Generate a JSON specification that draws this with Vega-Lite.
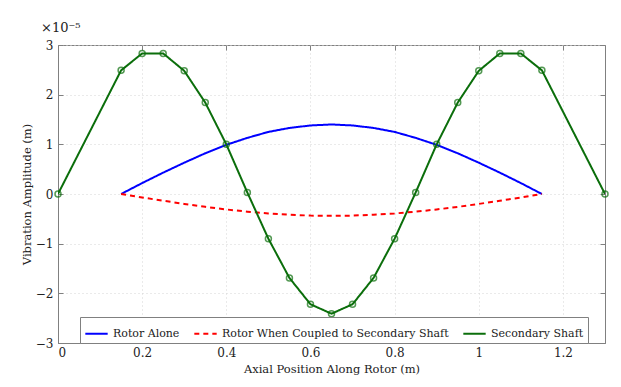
{
  "$schema": "https://vega.github.io/schema/vega-lite/v6.json",
  "width": 547,
  "height": 298,
  "autosize": {"type": "none"},
  "padding": {"left": 58, "top": 45, "right": 16, "bottom": 44},
  "background": "white",
  "config": {
    "font": "DejaVu Serif",
    "view": {"stroke": "#808080", "strokeWidth": 1},
    "axis": {
      "labelFont": "DejaVu Serif",
      "titleFont": "DejaVu Serif",
      "labelFontSize": 12,
      "titleFontSize": 11.5,
      "titleFontWeight": "normal",
      "labelColor": "#222",
      "titleColor": "#222",
      "domainColor": "#808080",
      "tickColor": "#808080",
      "gridColor": "#d4d4d4",
      "gridDash": [1, 3],
      "tickSize": -5
    }
  },
  "title": {
    "text": "×10⁻⁵",
    "anchor": "start",
    "frame": "group",
    "dx": -17,
    "offset": 4,
    "fontSize": 13,
    "fontWeight": "normal",
    "font": "DejaVu Serif",
    "color": "#222"
  },
  "data": {
    "values": [
      {"series": "Rotor Alone", "x": 0.15, "y": 0},
      {"series": "Rotor Alone", "x": 0.2, "y": 0.22},
      {"series": "Rotor Alone", "x": 0.25, "y": 0.43},
      {"series": "Rotor Alone", "x": 0.3, "y": 0.63},
      {"series": "Rotor Alone", "x": 0.35, "y": 0.82},
      {"series": "Rotor Alone", "x": 0.4, "y": 0.99},
      {"series": "Rotor Alone", "x": 0.45, "y": 1.13},
      {"series": "Rotor Alone", "x": 0.5, "y": 1.25},
      {"series": "Rotor Alone", "x": 0.55, "y": 1.33},
      {"series": "Rotor Alone", "x": 0.6, "y": 1.38},
      {"series": "Rotor Alone", "x": 0.65, "y": 1.4},
      {"series": "Rotor Alone", "x": 0.7, "y": 1.38},
      {"series": "Rotor Alone", "x": 0.75, "y": 1.33},
      {"series": "Rotor Alone", "x": 0.8, "y": 1.25},
      {"series": "Rotor Alone", "x": 0.85, "y": 1.13},
      {"series": "Rotor Alone", "x": 0.9, "y": 0.99},
      {"series": "Rotor Alone", "x": 0.95, "y": 0.82},
      {"series": "Rotor Alone", "x": 1.0, "y": 0.63},
      {"series": "Rotor Alone", "x": 1.05, "y": 0.43},
      {"series": "Rotor Alone", "x": 1.1, "y": 0.22},
      {"series": "Rotor Alone", "x": 1.15, "y": 0},
      {"series": "Rotor When Coupled to Secondary Shaft", "x": 0.15, "y": 0},
      {"series": "Rotor When Coupled to Secondary Shaft", "x": 0.2, "y": -0.07},
      {"series": "Rotor When Coupled to Secondary Shaft", "x": 0.25, "y": -0.136},
      {"series": "Rotor When Coupled to Secondary Shaft", "x": 0.3, "y": -0.2},
      {"series": "Rotor When Coupled to Secondary Shaft", "x": 0.35, "y": -0.259},
      {"series": "Rotor When Coupled to Secondary Shaft", "x": 0.4, "y": -0.311},
      {"series": "Rotor When Coupled to Secondary Shaft", "x": 0.45, "y": -0.356},
      {"series": "Rotor When Coupled to Secondary Shaft", "x": 0.5, "y": -0.392},
      {"series": "Rotor When Coupled to Secondary Shaft", "x": 0.55, "y": -0.418},
      {"series": "Rotor When Coupled to Secondary Shaft", "x": 0.6, "y": -0.435},
      {"series": "Rotor When Coupled to Secondary Shaft", "x": 0.65, "y": -0.44},
      {"series": "Rotor When Coupled to Secondary Shaft", "x": 0.7, "y": -0.435},
      {"series": "Rotor When Coupled to Secondary Shaft", "x": 0.75, "y": -0.418},
      {"series": "Rotor When Coupled to Secondary Shaft", "x": 0.8, "y": -0.392},
      {"series": "Rotor When Coupled to Secondary Shaft", "x": 0.85, "y": -0.356},
      {"series": "Rotor When Coupled to Secondary Shaft", "x": 0.9, "y": -0.311},
      {"series": "Rotor When Coupled to Secondary Shaft", "x": 0.95, "y": -0.259},
      {"series": "Rotor When Coupled to Secondary Shaft", "x": 1.0, "y": -0.2},
      {"series": "Rotor When Coupled to Secondary Shaft", "x": 1.05, "y": -0.136},
      {"series": "Rotor When Coupled to Secondary Shaft", "x": 1.1, "y": -0.07},
      {"series": "Rotor When Coupled to Secondary Shaft", "x": 1.15, "y": 0},
      {"series": "Secondary Shaft", "x": 0, "y": 0},
      {"series": "Secondary Shaft", "x": 0.15, "y": 2.49},
      {"series": "Secondary Shaft", "x": 0.2, "y": 2.83},
      {"series": "Secondary Shaft", "x": 0.25, "y": 2.83},
      {"series": "Secondary Shaft", "x": 0.3, "y": 2.48},
      {"series": "Secondary Shaft", "x": 0.35, "y": 1.84},
      {"series": "Secondary Shaft", "x": 0.4, "y": 1.0},
      {"series": "Secondary Shaft", "x": 0.45, "y": 0.03},
      {"series": "Secondary Shaft", "x": 0.5, "y": -0.9},
      {"series": "Secondary Shaft", "x": 0.55, "y": -1.69},
      {"series": "Secondary Shaft", "x": 0.6, "y": -2.22},
      {"series": "Secondary Shaft", "x": 0.65, "y": -2.41},
      {"series": "Secondary Shaft", "x": 0.7, "y": -2.22},
      {"series": "Secondary Shaft", "x": 0.75, "y": -1.69},
      {"series": "Secondary Shaft", "x": 0.8, "y": -0.9},
      {"series": "Secondary Shaft", "x": 0.85, "y": 0.03},
      {"series": "Secondary Shaft", "x": 0.9, "y": 1.0},
      {"series": "Secondary Shaft", "x": 0.95, "y": 1.84},
      {"series": "Secondary Shaft", "x": 1.0, "y": 2.48},
      {"series": "Secondary Shaft", "x": 1.05, "y": 2.83},
      {"series": "Secondary Shaft", "x": 1.1, "y": 2.83},
      {"series": "Secondary Shaft", "x": 1.15, "y": 2.49},
      {"series": "Secondary Shaft", "x": 1.3, "y": 0}
    ]
  },
  "layer": [
    {
      "mark": {"type": "line", "strokeWidth": 2, "clip": true},
      "encoding": {
        "x": {
          "field": "x", "type": "quantitative",
          "scale": {"domain": [0, 1.3], "nice": false, "zero": false},
          "axis": {"values": [0, 0.2, 0.4, 0.6, 0.8, 1, 1.2], "format": "~g", "title": "Axial Position Along Rotor (m)", "titlePadding": 5, "labelPadding": 9, "grid": true}
        },
        "y": {
          "field": "y", "type": "quantitative",
          "scale": {"domain": [-3, 3], "nice": false},
          "axis": {"values": [-3, -2, -1, 0, 1, 2, 3], "format": "~g", "title": "Vibration Amplitude (m)", "titlePadding": 3, "labelPadding": 10, "grid": true}
        },
        "color": {
          "field": "series", "type": "nominal",
          "scale": {
            "domain": ["Rotor Alone", "Rotor When Coupled to Secondary Shaft", "Secondary Shaft"],
            "range": ["#0000ff", "#ff0000", "#0b6e0b"]
          },
          "legend": {
            "title": null,
            "orient": "none",
            "legendX": 22,
            "legendY": 272,
            "direction": "horizontal",
            "symbolType": "stroke",
            "symbolSize": 500,
            "symbolStrokeWidth": 2,
            "labelFont": "DejaVu Serif",
            "labelFontSize": 11,
            "labelColor": "#222",
            "columnPadding": 10,
            "padding": 4,
            "strokeColor": "#808080",
            "fillColor": "white",
            "labelLimit": 400
          }
        },
        "strokeDash": {
          "field": "series", "type": "nominal",
          "scale": {
            "domain": ["Rotor Alone", "Rotor When Coupled to Secondary Shaft", "Secondary Shaft"],
            "range": [[1, 0], [5, 4], [1, 0]]
          },
          "legend": {
            "title": null,
            "orient": "none",
            "legendX": 22,
            "legendY": 272,
            "direction": "horizontal",
            "symbolType": "stroke",
            "symbolSize": 500,
            "symbolStrokeWidth": 2,
            "labelFont": "DejaVu Serif",
            "labelFontSize": 11,
            "labelColor": "#222",
            "columnPadding": 10,
            "padding": 4,
            "strokeColor": "#808080",
            "fillColor": "white",
            "labelLimit": 400
          }
        }
      }
    },
    {
      "transform": [{"filter": "datum.series === 'Secondary Shaft'"}],
      "mark": {"type": "point", "shape": "circle", "filled": false, "color": "#0b6e0b", "strokeWidth": 1.5, "size": 36, "clip": false},
      "encoding": {
        "x": {"field": "x", "type": "quantitative", "axis": {"orient": "top", "values": [0, 0.2, 0.4, 0.6, 0.8, 1, 1.2], "labels": false, "title": null, "grid": false, "domain": false}},
        "y": {"field": "y", "type": "quantitative", "axis": {"orient": "right", "values": [-3, -2, -1, 0, 1, 2, 3], "labels": false, "title": null, "grid": false, "domain": false}}
      }
    }
  ],
  "resolve": {"axis": {"x": "independent", "y": "independent"}}
}
